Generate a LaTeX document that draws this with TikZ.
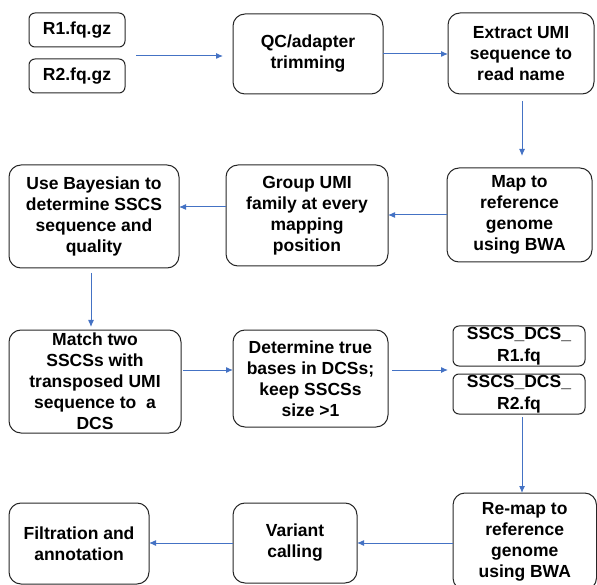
\documentclass[tikz,border=0pt]{standalone}
\usepackage{fontspec}
\setmainfont{Liberation Sans}
\usetikzlibrary{arrows.meta}
\definecolor{arrblue}{HTML}{4472C4}
\begin{document}
\begin{tikzpicture}[x=1pt,y=-1pt,
  box/.style={draw=black!85, line width=1pt, rounded corners=12pt, inner sep=0pt, outer sep=0pt,
    align=center, font=\fontsize{17.5}{21}\selectfont\bfseries},
  smallbox/.style={box, rounded corners=6pt},
  arr/.style={draw=arrblue, line width=1pt, -{Latex[length=7pt,width=6pt]}}]
\useasboundingbox (0,0) rectangle (597,585);
\clip (0,0) rectangle (597,585);
% boxes
\node[smallbox, minimum width=96pt, minimum height=34pt] (r1) at (77,30) {R1.fq.gz};
\node[smallbox, minimum width=96pt, minimum height=34pt] (r2) at (77,76) {R2.fq.gz};
\node[box, minimum width=150pt, minimum height=80pt] (qc) at (308,54) {QC/adapter\\trimming};
\node[box, minimum width=146pt, minimum height=81pt] (ex) at (521,53.5) {Extract UMI\\sequence to\\read name};
\node[box, minimum width=145pt, minimum height=94pt] (map) at (519.5,215) {Map to\\reference\\genome\\using BWA};
\node[box, minimum width=162pt, minimum height=101pt] (grp) at (307,215.5) {Group UMI\\family at every\\mapping\\position};
\node[box, minimum width=170pt, minimum height=103pt] (bay) at (94,216.5) {Use Bayesian to\\determine SSCS\\sequence and\\quality};
\node[box, minimum width=172pt, minimum height=103pt] (mat) at (95,381.5) {Match two\\SSCSs with\\transposed UMI\\sequence to\ \ a\\DCS};
\node[box, minimum width=155pt, minimum height=97pt] (det) at (310.5,378.5) {Determine true\\bases in DCSs;\\keep SSCSs\\size >1};
\node[smallbox, minimum width=132pt, minimum height=40pt, font=\fontsize{17.5}{22}\selectfont\bfseries] (s1) at (519,346) {SSCS\_DCS\_\\R1.fq};
\node[smallbox, minimum width=132pt, minimum height=40pt, font=\fontsize{17.5}{22}\selectfont\bfseries] (s2) at (519,394) {SSCS\_DCS\_\\R2.fq};
\node[box, minimum width=143.5pt, minimum height=97pt] (rem) at (524.75,541.5) {Re-map to\\reference\\genome\\using BWA};
\node[box, minimum width=124pt, minimum height=80pt] (var) at (295,543) {Variant\\calling};
\node[box, minimum width=140pt, minimum height=81pt] (fil) at (79,543.5) {Filtration and\\annotation};
% helper coordinates
\coordinate (in) at (136,56);
\coordinate (y207) at (0,207);
\coordinate (y370) at (0,370);
\coordinate (y543) at (0,543);
\coordinate (x91) at (91,0);
\coordinate (x522) at (522,0);
% connectors
\draw[arr, shorten >=10pt] (in) -- (in -| qc.west);
\draw[arr] (qc.east) -- (qc.east -| ex.west);
\draw[arr, shorten <=7pt, shorten >=12pt] (x522 |- ex.south) -- (x522 |- map.north);
\draw[arr] (map.west) -- (map.west -| grp.east);
\draw[arr] (grp.west |- y207) -- (bay.east |- y207);
\draw[arr, shorten <=5pt, shorten >=3pt] (x91 |- bay.south) -- (x91 |- mat.north);
\draw[arr, shorten <=2pt] (mat.east |- y370) -- (det.west |- y370);
\draw[arr, shorten <=4pt, shorten >=5pt] (det.east |- y370) -- (s1.west |- y370);
\draw[arr, shorten <=3pt] (x522 |- s2.south) -- (x522 |- rem.north);
\draw[arr] (rem.west |- y543) -- (var.east |- y543);
\draw[arr] (var.west |- y543) -- (fil.east |- y543);
\end{tikzpicture}
\end{document}
